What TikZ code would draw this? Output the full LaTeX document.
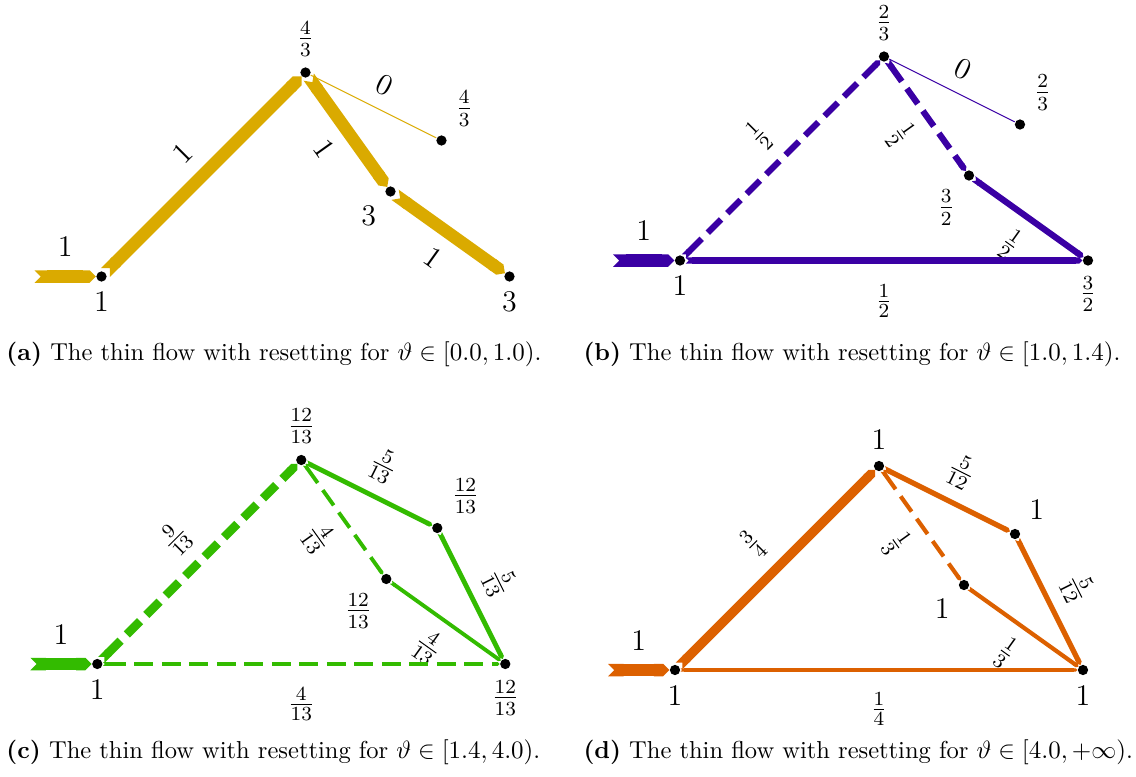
\documentclass[tikz,border=0pt]{standalone}
\usetikzlibrary{arrows.meta,backgrounds}
\definecolor{cA}{RGB}{218,170,0}
\definecolor{cB}{RGB}{58,0,164}
\definecolor{cC}{RGB}{51,187,0}
\definecolor{cD}{RGB}{220,96,0}
\tikzset{
  vert/.style={circle,fill=black,inner sep=0pt,minimum size=4.1pt},
  nl/.style={font=\large,inner sep=4pt,text=black},
  flow/.style={line width=#1,{Triangle Cap[reversed]}-{Triangle Cap}},
  el/.style={font=\large,sloped,inner sep=5.5pt,text=black},
  fe/.style={sloped,inner sep=5pt,text=black,font=\fontsize{11}{13}\selectfont},
  fb/.style={sloped,inner sep=8.5pt,text=black,font=\fontsize{11}{13}\selectfont},
  dsh/.style={dash pattern=on 7.5pt off 3.5pt},
  captxt/.style={anchor=base west,inner sep=0pt,font=\fontsize{9.8}{12}\selectfont},
}
\begin{document}
\begin{tikzpicture}[x=0.4pt,y=-0.4pt]
\useasboundingbox (0,0) rectangle (1136,776);

% ---------------- panel (a)
\begin{scope}[shift={(101.5,276.5)}]
\node[vert,label={[nl]below:$1$}] (a-s) at (0,0) {};
\node[vert,label={[nl]above:$\frac{4}{3}$}] (a-t) at (204,-204) {};
\node[vert,label={[nl]above right:$\frac{4}{3}$}] (a-A) at (340,-136) {};
\node[vert,label={[nl]below left:$3$}] (a-B) at (289,-85) {};
\node[vert,label={[nl]below:$3$}] (a-e) at (408,0) {};
\coordinate (a-in) at (-67,0);
\begin{scope}[on background layer]
\draw[flow=5pt,cA] (a-in) -- node[el,above]{$1$} (a-s);
\draw[flow=5pt,cA] (a-s) -- node[el,above]{$1$} (a-t);
\draw[flow=5pt,cA] (a-t) -- node[el,below]{$1$} (a-B);
\draw[flow=5pt,cA] (a-B) -- node[el,below]{$1$} (a-e);
\draw[flow=0.4pt,cA] (a-t) -- node[el,above]{$0$} (a-A);
\end{scope}
\end{scope}
\node[captxt] (cap-a) at (6,360) {\textbf{(a)} The thin flow with resetting for $\vartheta\in[0.0,1.0)$.};

% ---------------- panel (b)
\begin{scope}[shift={(680,260.5)}]
\node[vert,label={[nl]below:$1$}] (b-s) at (0,0) {};
\node[vert,label={[nl]above:$\frac{2}{3}$}] (b-t) at (204,-204) {};
\node[vert,label={[nl]above right:$\frac{2}{3}$}] (b-A) at (340,-136) {};
\node[vert,label={[nl]below left:$\frac{3}{2}$}] (b-B) at (289,-85) {};
\node[vert,label={[nl]below:$\frac{3}{2}$}] (b-e) at (408,0) {};
\coordinate (b-in) at (-67,0);
\begin{scope}[on background layer]
\draw[flow=5pt,cB] (b-in) -- node[el,above]{$1$} (b-s);
\draw[flow=2.5pt,dsh,cB] (b-s) -- node[fe,above]{$\frac{1}{2}$} (b-t);
\draw[flow=2.5pt,dsh,cB] (b-t) -- node[fe,below]{$\frac{1}{2}$} (b-B);
\draw[flow=2.5pt,cB] (b-B) -- node[fe,below]{$\frac{1}{2}$} (b-e);
\draw[flow=2.5pt,cB] (b-s) -- node[fb,below]{$\frac{1}{2}$} (b-e);
\draw[flow=0.4pt,cB] (b-t) -- node[el,above]{$0$} (b-A);
\end{scope}
\end{scope}
\node[captxt] (cap-b) at (583,360) {\textbf{(b)} The thin flow with resetting for $\vartheta\in[1.0,1.4)$.};

% ---------------- panel (c)
\begin{scope}[shift={(97.3,664)}]
\node[vert,label={[nl]below:$1$}] (c-s) at (0,0) {};
\node[vert,label={[nl]above:$\frac{12}{13}$}] (c-t) at (204,-204) {};
\node[vert,label={[nl]above right:$\frac{12}{13}$}] (c-A) at (340,-136) {};
\node[vert,label={[nl]below left:$\frac{12}{13}$}] (c-B) at (289,-85) {};
\node[vert,label={[nl]below:$\frac{12}{13}$}] (c-e) at (408,0) {};
\coordinate (c-in) at (-67,0);
\begin{scope}[on background layer]
\draw[flow=5pt,cC] (c-in) -- node[el,above]{$1$} (c-s);
\draw[flow=3.46pt,dsh,cC] (c-s) -- node[fe,above]{$\frac{9}{13}$} (c-t);
\draw[flow=1.92pt,cC] (c-t) -- node[fe,above]{$\frac{5}{13}$} (c-A);
\draw[flow=1.54pt,dsh,cC] (c-t) -- node[fe,below]{$\frac{4}{13}$} (c-B);
\draw[flow=1.92pt,cC] (c-A) -- node[fe,above]{$\frac{5}{13}$} (c-e);
\draw[flow=1.54pt,cC] (c-B) -- node[fe,below]{$\frac{4}{13}$} (c-e);
\draw[flow=1.54pt,dsh,cC] (c-s) -- node[fb,below]{$\frac{4}{13}$} (c-e);
\end{scope}
\end{scope}
\node[captxt] (cap-c) at (6,758) {\textbf{(c)} The thin flow with resetting for $\vartheta\in[1.4,4.0)$.};

% ---------------- panel (d)
\begin{scope}[shift={(675,670)}]
\node[vert,label={[nl]below:$1$}] (d-s) at (0,0) {};
\node[vert,label={[nl]above:$1$}] (d-t) at (204,-204) {};
\node[vert,label={[nl]above right:$1$}] (d-A) at (340,-136) {};
\node[vert,label={[nl]below left:$1$}] (d-B) at (289,-85) {};
\node[vert,label={[nl]below:$1$}] (d-e) at (408,0) {};
\coordinate (d-in) at (-67,0);
\begin{scope}[on background layer]
\draw[flow=5pt,cD] (d-in) -- node[el,above]{$1$} (d-s);
\draw[flow=3.75pt,cD] (d-s) -- node[fe,above]{$\frac{3}{4}$} (d-t);
\draw[flow=2.08pt,cD] (d-t) -- node[fe,above]{$\frac{5}{12}$} (d-A);
\draw[flow=1.67pt,dsh,cD] (d-t) -- node[fe,below]{$\frac{1}{3}$} (d-B);
\draw[flow=2.08pt,cD] (d-A) -- node[fe,above]{$\frac{5}{12}$} (d-e);
\draw[flow=1.67pt,cD] (d-B) -- node[fe,below]{$\frac{1}{3}$} (d-e);
\draw[flow=1.25pt,cD] (d-s) -- node[fb,below]{$\frac{1}{4}$} (d-e);
\end{scope}
\end{scope}
\node[captxt] (cap-d) at (583,758) {\textbf{(d)} The thin flow with resetting for $\vartheta\in[4.0,+\infty)$.};
\end{tikzpicture}
\end{document}
